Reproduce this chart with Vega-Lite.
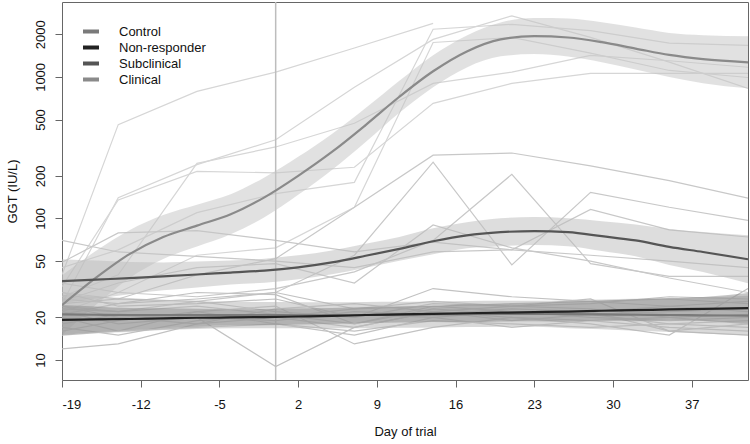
{
  "$schema": "https://vega.github.io/schema/vega-lite/v6.json",
  "width": 686,
  "height": 378,
  "autosize": {"type": "none"},
  "padding": {"left": 62, "top": 2, "right": 2, "bottom": 64},
  "background": "white",
  "config": {
    "view": {"stroke": "#666666", "strokeWidth": 1},
    "font": "Liberation Sans"
  },
  "datasets": {
    "animals": [
      {"id":"C1","group":"Clinical","day":-19,"ggt":40},{"id":"C1","group":"Clinical","day":-14,"ggt":460},{"id":"C1","group":"Clinical","day":-7,"ggt":790},{"id":"C1","group":"Clinical","day":0,"ggt":1080},{"id":"C1","group":"Clinical","day":7,"ggt":1600},{"id":"C1","group":"Clinical","day":14,"ggt":2390},
      {"id":"C2","group":"Clinical","day":-19,"ggt":25},{"id":"C2","group":"Clinical","day":-14,"ggt":140},{"id":"C2","group":"Clinical","day":-7,"ggt":240},{"id":"C2","group":"Clinical","day":0,"ggt":360},{"id":"C2","group":"Clinical","day":7,"ggt":845},{"id":"C2","group":"Clinical","day":14,"ggt":1840},{"id":"C2","group":"Clinical","day":21,"ggt":2700},{"id":"C2","group":"Clinical","day":28,"ggt":1900},{"id":"C2","group":"Clinical","day":35,"ggt":1270},{"id":"C2","group":"Clinical","day":42,"ggt":830},
      {"id":"C3","group":"Clinical","day":-19,"ggt":33},{"id":"C3","group":"Clinical","day":-14,"ggt":135},{"id":"C3","group":"Clinical","day":-7,"ggt":215},{"id":"C3","group":"Clinical","day":0,"ggt":210},{"id":"C3","group":"Clinical","day":7,"ggt":230},{"id":"C3","group":"Clinical","day":14,"ggt":650},{"id":"C3","group":"Clinical","day":21,"ggt":900},{"id":"C3","group":"Clinical","day":28,"ggt":1060},{"id":"C3","group":"Clinical","day":35,"ggt":1060},{"id":"C3","group":"Clinical","day":42,"ggt":1060},
      {"id":"C4","group":"Clinical","day":-19,"ggt":45},{"id":"C4","group":"Clinical","day":-14,"ggt":60},{"id":"C4","group":"Clinical","day":-7,"ggt":110},{"id":"C4","group":"Clinical","day":0,"ggt":150},{"id":"C4","group":"Clinical","day":7,"ggt":180},{"id":"C4","group":"Clinical","day":14,"ggt":2170},{"id":"C4","group":"Clinical","day":21,"ggt":2350},{"id":"C4","group":"Clinical","day":28,"ggt":2120},{"id":"C4","group":"Clinical","day":35,"ggt":1730},{"id":"C4","group":"Clinical","day":42,"ggt":1670},
      {"id":"C5","group":"Clinical","day":-19,"ggt":22},{"id":"C5","group":"Clinical","day":-14,"ggt":30},{"id":"C5","group":"Clinical","day":-7,"ggt":55},{"id":"C5","group":"Clinical","day":0,"ggt":62},{"id":"C5","group":"Clinical","day":7,"ggt":120},{"id":"C5","group":"Clinical","day":14,"ggt":1750},{"id":"C5","group":"Clinical","day":21,"ggt":1900},{"id":"C5","group":"Clinical","day":28,"ggt":1470},{"id":"C5","group":"Clinical","day":35,"ggt":1110},{"id":"C5","group":"Clinical","day":42,"ggt":990},
      {"id":"C6","group":"Clinical","day":-19,"ggt":28},{"id":"C6","group":"Clinical","day":-14,"ggt":40},{"id":"C6","group":"Clinical","day":-7,"ggt":245},{"id":"C6","group":"Clinical","day":0,"ggt":320},{"id":"C6","group":"Clinical","day":7,"ggt":470},{"id":"C6","group":"Clinical","day":14,"ggt":900},{"id":"C6","group":"Clinical","day":21,"ggt":1080},{"id":"C6","group":"Clinical","day":28,"ggt":1420},{"id":"C6","group":"Clinical","day":35,"ggt":1300},{"id":"C6","group":"Clinical","day":42,"ggt":1170},
      {"id":"S1","group":"Subclinical","day":-19,"ggt":30},{"id":"S1","group":"Subclinical","day":-14,"ggt":27},{"id":"S1","group":"Subclinical","day":-7,"ggt":40},{"id":"S1","group":"Subclinical","day":0,"ggt":52},{"id":"S1","group":"Subclinical","day":7,"ggt":120},{"id":"S1","group":"Subclinical","day":14,"ggt":280},{"id":"S1","group":"Subclinical","day":21,"ggt":290},{"id":"S1","group":"Subclinical","day":28,"ggt":235},{"id":"S1","group":"Subclinical","day":35,"ggt":185},{"id":"S1","group":"Subclinical","day":42,"ggt":139},
      {"id":"S2","group":"Subclinical","day":-19,"ggt":24},{"id":"S2","group":"Subclinical","day":-14,"ggt":22},{"id":"S2","group":"Subclinical","day":-7,"ggt":26},{"id":"S2","group":"Subclinical","day":0,"ggt":30},{"id":"S2","group":"Subclinical","day":7,"ggt":55},{"id":"S2","group":"Subclinical","day":14,"ggt":250},{"id":"S2","group":"Subclinical","day":21,"ggt":47},{"id":"S2","group":"Subclinical","day":28,"ggt":153},{"id":"S2","group":"Subclinical","day":35,"ggt":120},{"id":"S2","group":"Subclinical","day":42,"ggt":97},
      {"id":"S3","group":"Subclinical","day":-19,"ggt":35},{"id":"S3","group":"Subclinical","day":-14,"ggt":30},{"id":"S3","group":"Subclinical","day":-7,"ggt":28},{"id":"S3","group":"Subclinical","day":0,"ggt":32},{"id":"S3","group":"Subclinical","day":7,"ggt":42},{"id":"S3","group":"Subclinical","day":14,"ggt":70},{"id":"S3","group":"Subclinical","day":21,"ggt":205},{"id":"S3","group":"Subclinical","day":28,"ggt":48},{"id":"S3","group":"Subclinical","day":35,"ggt":39},{"id":"S3","group":"Subclinical","day":42,"ggt":39},
      {"id":"S4","group":"Subclinical","day":-19,"ggt":70},{"id":"S4","group":"Subclinical","day":-14,"ggt":58},{"id":"S4","group":"Subclinical","day":-7,"ggt":54},{"id":"S4","group":"Subclinical","day":0,"ggt":50},{"id":"S4","group":"Subclinical","day":7,"ggt":45},{"id":"S4","group":"Subclinical","day":14,"ggt":58},{"id":"S4","group":"Subclinical","day":21,"ggt":60},{"id":"S4","group":"Subclinical","day":28,"ggt":116},{"id":"S4","group":"Subclinical","day":35,"ggt":83},{"id":"S4","group":"Subclinical","day":42,"ggt":74},
      {"id":"S5","group":"Subclinical","day":-19,"ggt":49},{"id":"S5","group":"Subclinical","day":-14,"ggt":79},{"id":"S5","group":"Subclinical","day":-7,"ggt":82},{"id":"S5","group":"Subclinical","day":0,"ggt":70},{"id":"S5","group":"Subclinical","day":7,"ggt":58},{"id":"S5","group":"Subclinical","day":14,"ggt":68},{"id":"S5","group":"Subclinical","day":21,"ggt":60},{"id":"S5","group":"Subclinical","day":28,"ggt":55},{"id":"S5","group":"Subclinical","day":35,"ggt":50},{"id":"S5","group":"Subclinical","day":42,"ggt":45},
      {"id":"S6","group":"Subclinical","day":-19,"ggt":26},{"id":"S6","group":"Subclinical","day":-14,"ggt":35},{"id":"S6","group":"Subclinical","day":-7,"ggt":45},{"id":"S6","group":"Subclinical","day":0,"ggt":48},{"id":"S6","group":"Subclinical","day":7,"ggt":35},{"id":"S6","group":"Subclinical","day":14,"ggt":90},{"id":"S6","group":"Subclinical","day":21,"ggt":62},{"id":"S6","group":"Subclinical","day":28,"ggt":50},{"id":"S6","group":"Subclinical","day":35,"ggt":38},{"id":"S6","group":"Subclinical","day":42,"ggt":30},
      {"id":"N1","group":"Control","day":-19,"ggt":12},{"id":"N1","group":"Control","day":-14,"ggt":13},{"id":"N1","group":"Control","day":-7,"ggt":18},{"id":"N1","group":"Control","day":0,"ggt":20},{"id":"N1","group":"Control","day":7,"ggt":17},{"id":"N1","group":"Control","day":14,"ggt":22},{"id":"N1","group":"Control","day":21,"ggt":20},{"id":"N1","group":"Control","day":28,"ggt":19},{"id":"N1","group":"Control","day":35,"ggt":17},{"id":"N1","group":"Control","day":42,"ggt":16},
      {"id":"N2","group":"Control","day":-19,"ggt":22},{"id":"N2","group":"Control","day":-14,"ggt":18},{"id":"N2","group":"Control","day":-7,"ggt":20},{"id":"N2","group":"Control","day":0,"ggt":9},{"id":"N2","group":"Control","day":7,"ggt":17},{"id":"N2","group":"Control","day":14,"ggt":22},{"id":"N2","group":"Control","day":21,"ggt":19},{"id":"N2","group":"Control","day":28,"ggt":21},{"id":"N2","group":"Control","day":35,"ggt":18},{"id":"N2","group":"Control","day":42,"ggt":17},
      {"id":"N3","group":"Control","day":-19,"ggt":17},{"id":"N3","group":"Control","day":-14,"ggt":15},{"id":"N3","group":"Control","day":-7,"ggt":19},{"id":"N3","group":"Control","day":0,"ggt":21},{"id":"N3","group":"Control","day":7,"ggt":18},{"id":"N3","group":"Control","day":14,"ggt":23},{"id":"N3","group":"Control","day":21,"ggt":21},{"id":"N3","group":"Control","day":28,"ggt":22},{"id":"N3","group":"Control","day":35,"ggt":24},{"id":"N3","group":"Control","day":42,"ggt":26},
      {"id":"N4","group":"Control","day":-19,"ggt":20},{"id":"N4","group":"Control","day":-14,"ggt":16},{"id":"N4","group":"Control","day":-7,"ggt":22},{"id":"N4","group":"Control","day":0,"ggt":24},{"id":"N4","group":"Control","day":7,"ggt":13},{"id":"N4","group":"Control","day":14,"ggt":17},{"id":"N4","group":"Control","day":21,"ggt":20},{"id":"N4","group":"Control","day":28,"ggt":18},{"id":"N4","group":"Control","day":35,"ggt":15},{"id":"N4","group":"Control","day":42,"ggt":32},
      {"id":"N5","group":"Control","day":-19,"ggt":25},{"id":"N5","group":"Control","day":-14,"ggt":27},{"id":"N5","group":"Control","day":-7,"ggt":26},{"id":"N5","group":"Control","day":0,"ggt":22},{"id":"N5","group":"Control","day":7,"ggt":20},{"id":"N5","group":"Control","day":14,"ggt":25},{"id":"N5","group":"Control","day":21,"ggt":24},{"id":"N5","group":"Control","day":28,"ggt":23},{"id":"N5","group":"Control","day":35,"ggt":20},{"id":"N5","group":"Control","day":42,"ggt":18},
      {"id":"N6","group":"Control","day":-19,"ggt":19},{"id":"N6","group":"Control","day":-14,"ggt":20},{"id":"N6","group":"Control","day":-7,"ggt":21},{"id":"N6","group":"Control","day":0,"ggt":20},{"id":"N6","group":"Control","day":7,"ggt":23},{"id":"N6","group":"Control","day":14,"ggt":24},{"id":"N6","group":"Control","day":21,"ggt":22},{"id":"N6","group":"Control","day":28,"ggt":21},{"id":"N6","group":"Control","day":35,"ggt":22},{"id":"N6","group":"Control","day":42,"ggt":23},
      {"id":"N7","group":"Control","day":-19,"ggt":27},{"id":"N7","group":"Control","day":-14,"ggt":25},{"id":"N7","group":"Control","day":-7,"ggt":30},{"id":"N7","group":"Control","day":0,"ggt":29},{"id":"N7","group":"Control","day":7,"ggt":18},{"id":"N7","group":"Control","day":14,"ggt":24},{"id":"N7","group":"Control","day":21,"ggt":25},{"id":"N7","group":"Control","day":28,"ggt":26},{"id":"N7","group":"Control","day":35,"ggt":27},{"id":"N7","group":"Control","day":42,"ggt":25},
      {"id":"N8","group":"Non-responder","day":-19,"ggt":15},{"id":"N8","group":"Non-responder","day":-14,"ggt":16},{"id":"N8","group":"Non-responder","day":-7,"ggt":17},{"id":"N8","group":"Non-responder","day":0,"ggt":18},{"id":"N8","group":"Non-responder","day":7,"ggt":16},{"id":"N8","group":"Non-responder","day":14,"ggt":19},{"id":"N8","group":"Non-responder","day":21,"ggt":18},{"id":"N8","group":"Non-responder","day":28,"ggt":17},{"id":"N8","group":"Non-responder","day":35,"ggt":18},{"id":"N8","group":"Non-responder","day":42,"ggt":19},
      {"id":"N9","group":"Non-responder","day":-19,"ggt":23},{"id":"N9","group":"Non-responder","day":-14,"ggt":22},{"id":"N9","group":"Non-responder","day":-7,"ggt":24},{"id":"N9","group":"Non-responder","day":0,"ggt":21},{"id":"N9","group":"Non-responder","day":7,"ggt":21},{"id":"N9","group":"Non-responder","day":14,"ggt":20},{"id":"N9","group":"Non-responder","day":21,"ggt":22},{"id":"N9","group":"Non-responder","day":28,"ggt":20},{"id":"N9","group":"Non-responder","day":35,"ggt":19},{"id":"N9","group":"Non-responder","day":42,"ggt":20},
      {"id":"N10","group":"Non-responder","day":-19,"ggt":30},{"id":"N10","group":"Non-responder","day":-14,"ggt":24},{"id":"N10","group":"Non-responder","day":-7,"ggt":25},{"id":"N10","group":"Non-responder","day":0,"ggt":27},{"id":"N10","group":"Non-responder","day":7,"ggt":20},{"id":"N10","group":"Non-responder","day":14,"ggt":32},{"id":"N10","group":"Non-responder","day":21,"ggt":28},{"id":"N10","group":"Non-responder","day":28,"ggt":26},{"id":"N10","group":"Non-responder","day":35,"ggt":24},{"id":"N10","group":"Non-responder","day":42,"ggt":22},
      {"id":"N11","group":"Non-responder","day":-19,"ggt":18},{"id":"N11","group":"Non-responder","day":-14,"ggt":21},{"id":"N11","group":"Non-responder","day":-7,"ggt":20},{"id":"N11","group":"Non-responder","day":0,"ggt":19},{"id":"N11","group":"Non-responder","day":7,"ggt":22},{"id":"N11","group":"Non-responder","day":14,"ggt":21},{"id":"N11","group":"Non-responder","day":21,"ggt":23},{"id":"N11","group":"Non-responder","day":28,"ggt":22},{"id":"N11","group":"Non-responder","day":35,"ggt":16},{"id":"N11","group":"Non-responder","day":42,"ggt":15},
      {"id":"N12","group":"Non-responder","day":-19,"ggt":21},{"id":"N12","group":"Non-responder","day":-14,"ggt":25},{"id":"N12","group":"Non-responder","day":-7,"ggt":27},{"id":"N12","group":"Non-responder","day":0,"ggt":30},{"id":"N12","group":"Non-responder","day":7,"ggt":23},{"id":"N12","group":"Non-responder","day":14,"ggt":26},{"id":"N12","group":"Non-responder","day":21,"ggt":24},{"id":"N12","group":"Non-responder","day":28,"ggt":25},{"id":"N12","group":"Non-responder","day":35,"ggt":28},{"id":"N12","group":"Non-responder","day":42,"ggt":27},
      {"id":"N13","group":"Non-responder","day":-19,"ggt":16},{"id":"N13","group":"Non-responder","day":-14,"ggt":19},{"id":"N13","group":"Non-responder","day":-7,"ggt":22},{"id":"N13","group":"Non-responder","day":0,"ggt":18},{"id":"N13","group":"Non-responder","day":7,"ggt":15},{"id":"N13","group":"Non-responder","day":14,"ggt":20},{"id":"N13","group":"Non-responder","day":21,"ggt":17},{"id":"N13","group":"Non-responder","day":28,"ggt":19},{"id":"N13","group":"Non-responder","day":35,"ggt":20},{"id":"N13","group":"Non-responder","day":42,"ggt":21},
      {"id":"N14","group":"Non-responder","day":-19,"ggt":24},{"id":"N14","group":"Non-responder","day":-14,"ggt":20},{"id":"N14","group":"Non-responder","day":-7,"ggt":18},{"id":"N14","group":"Non-responder","day":0,"ggt":23},{"id":"N14","group":"Non-responder","day":7,"ggt":25},{"id":"N14","group":"Non-responder","day":14,"ggt":22},{"id":"N14","group":"Non-responder","day":21,"ggt":24},{"id":"N14","group":"Non-responder","day":28,"ggt":27},{"id":"N14","group":"Non-responder","day":35,"ggt":16},{"id":"N14","group":"Non-responder","day":42,"ggt":18}
    ],
    "fits": [
      {"group":"Clinical","day":-19,"fit":24.4,"lo":15.0,"hi":39.7},{"group":"Clinical","day":-16,"fit":38,"lo":24.5,"hi":58.9},{"group":"Clinical","day":-13,"fit":56,"lo":37.9,"hi":82.7},{"group":"Clinical","day":-10,"fit":74,"lo":51.7,"hi":105.8},{"group":"Clinical","day":-7,"fit":89,"lo":63.3,"hi":125.1},{"group":"Clinical","day":-4,"fit":107,"lo":77.3,"hi":148.1},{"group":"Clinical","day":-1,"fit":141,"lo":101.9,"hi":195.1},{"group":"Clinical","day":2,"fit":200,"lo":146.8,"hi":272.4},{"group":"Clinical","day":5,"fit":295,"lo":220.1,"hi":395.3},{"group":"Clinical","day":8,"fit":457,"lo":346.7,"hi":602.3},{"group":"Clinical","day":11,"fit":724,"lo":558.2,"hi":939},{"group":"Clinical","day":14,"fit":1096,"lo":845,"hi":1422},{"group":"Clinical","day":17,"fit":1514,"lo":1167,"hi":1964},{"group":"Clinical","day":20,"fit":1841,"lo":1397,"hi":2426},{"group":"Clinical","day":23,"fit":1941,"lo":1449,"hi":2601},{"group":"Clinical","day":26,"fit":1897,"lo":1393,"hi":2584},{"group":"Clinical","day":29,"fit":1758,"lo":1270,"hi":2433},{"group":"Clinical","day":32,"fit":1585,"lo":1127,"hi":2229},{"group":"Clinical","day":35,"fit":1429,"lo":1000,"hi":2044},{"group":"Clinical","day":38,"fit":1334,"lo":903,"hi":1970},{"group":"Clinical","day":42,"fit":1268,"lo":831,"hi":1935},
      {"group":"Subclinical","day":-19,"fit":36.1,"lo":25.2,"hi":51.6},{"group":"Subclinical","day":-16,"fit":37.0,"lo":27.2,"hi":50.4},{"group":"Subclinical","day":-13,"fit":37.9,"lo":29.2,"hi":49.2},{"group":"Subclinical","day":-10,"fit":39.0,"lo":31.1,"hi":48.9},{"group":"Subclinical","day":-7,"fit":40.2,"lo":32.6,"hi":49.6},{"group":"Subclinical","day":-4,"fit":41.5,"lo":34.2,"hi":50.4},{"group":"Subclinical","day":-1,"fit":42.8,"lo":35.2,"hi":52.0},{"group":"Subclinical","day":2,"fit":45.2,"lo":37.2,"hi":54.9},{"group":"Subclinical","day":5,"fit":49.0,"lo":40.3,"hi":59.5},{"group":"Subclinical","day":8,"fit":54.5,"lo":44.9,"hi":66.2},{"group":"Subclinical","day":11,"fit":61.0,"lo":50.2,"hi":74.1},{"group":"Subclinical","day":14,"fit":69.0,"lo":55.9,"hi":85.2},{"group":"Subclinical","day":17,"fit":76.0,"lo":61.5,"hi":93.9},{"group":"Subclinical","day":20,"fit":80.0,"lo":63.7,"hi":100.4},{"group":"Subclinical","day":23,"fit":81.5,"lo":64.9,"hi":102.3},{"group":"Subclinical","day":26,"fit":80.0,"lo":63.7,"hi":100.4},{"group":"Subclinical","day":29,"fit":75.0,"lo":58.8,"hi":95.7},{"group":"Subclinical","day":32,"fit":70.0,"lo":54.0,"hi":90.8},{"group":"Subclinical","day":35,"fit":63.0,"lo":47.0,"hi":84.4},{"group":"Subclinical","day":38,"fit":58.0,"lo":41.9,"hi":80.3},{"group":"Subclinical","day":42,"fit":51.5,"lo":34.9,"hi":76.1},
      {"group":"Control","day":-19,"fit":21.0,"lo":15.2,"hi":29.1},{"group":"Control","day":-16,"fit":20.9,"lo":15.6,"hi":28.0},{"group":"Control","day":-13,"fit":20.8,"lo":15.8,"hi":27.4},{"group":"Control","day":-10,"fit":20.8,"lo":16.3,"hi":26.5},{"group":"Control","day":-7,"fit":20.8,"lo":16.6,"hi":26.1},{"group":"Control","day":-4,"fit":20.8,"lo":16.8,"hi":25.7},{"group":"Control","day":-1,"fit":20.8,"lo":16.8,"hi":25.7},{"group":"Control","day":2,"fit":20.7,"lo":16.8,"hi":25.6},{"group":"Control","day":5,"fit":20.7,"lo":16.8,"hi":25.6},{"group":"Control","day":8,"fit":20.8,"lo":16.8,"hi":25.7},{"group":"Control","day":11,"fit":20.9,"lo":16.9,"hi":25.8},{"group":"Control","day":14,"fit":21.0,"lo":17.0,"hi":25.9},{"group":"Control","day":17,"fit":21.1,"lo":17.1,"hi":26.1},{"group":"Control","day":20,"fit":21.2,"lo":17.2,"hi":26.2},{"group":"Control","day":23,"fit":21.2,"lo":17.2,"hi":26.2},{"group":"Control","day":26,"fit":21.1,"lo":16.8,"hi":26.5},{"group":"Control","day":29,"fit":21.0,"lo":16.5,"hi":26.8},{"group":"Control","day":32,"fit":20.9,"lo":16.1,"hi":27.1},{"group":"Control","day":35,"fit":20.8,"lo":15.8,"hi":27.4},{"group":"Control","day":38,"fit":20.7,"lo":15.4,"hi":27.7},{"group":"Control","day":42,"fit":20.6,"lo":14.9,"hi":28.5},
      {"group":"Non-responder","day":-19,"fit":19.2,"lo":15.0,"hi":24.5},{"group":"Non-responder","day":-16,"fit":19.35,"lo":15.7,"hi":23.9},{"group":"Non-responder","day":-13,"fit":19.5,"lo":16.3,"hi":23.3},{"group":"Non-responder","day":-10,"fit":19.7,"lo":16.8,"hi":23.2},{"group":"Non-responder","day":-7,"fit":19.9,"lo":17.2,"hi":23.0},{"group":"Non-responder","day":-4,"fit":20.0,"lo":17.6,"hi":22.8},{"group":"Non-responder","day":-1,"fit":20.1,"lo":17.6,"hi":22.9},{"group":"Non-responder","day":2,"fit":20.3,"lo":17.8,"hi":23.1},{"group":"Non-responder","day":5,"fit":20.5,"lo":18.0,"hi":23.3},{"group":"Non-responder","day":8,"fit":20.8,"lo":18.3,"hi":23.7},{"group":"Non-responder","day":11,"fit":21.0,"lo":18.4,"hi":23.9},{"group":"Non-responder","day":14,"fit":21.2,"lo":18.6,"hi":24.1},{"group":"Non-responder","day":17,"fit":21.4,"lo":18.5,"hi":24.8},{"group":"Non-responder","day":20,"fit":21.6,"lo":18.7,"hi":25.0},{"group":"Non-responder","day":23,"fit":21.8,"lo":18.8,"hi":25.2},{"group":"Non-responder","day":26,"fit":22.0,"lo":18.7,"hi":25.9},{"group":"Non-responder","day":29,"fit":22.3,"lo":19.0,"hi":26.2},{"group":"Non-responder","day":32,"fit":22.5,"lo":18.8,"hi":26.9},{"group":"Non-responder","day":35,"fit":22.8,"lo":19.1,"hi":27.3},{"group":"Non-responder","day":38,"fit":23.0,"lo":18.9,"hi":27.9},{"group":"Non-responder","day":42,"fit":23.3,"lo":18.2,"hi":29.7}
    ],
    "vline": [{"day": 0}]
  },
  "encoding": {
    "x": {
      "field": "day", "type": "quantitative",
      "scale": {"domain": [-19, 42], "nice": false, "zero": false},
      "axis": {
        "values": [-19, -12, -5, 2, 9, 16, 23, 30, 37],
        "labelExpr": "'' + datum.value",
        "title": "Day of trial", "domain": false, "grid": false,
        "tickSize": 7, "tickColor": "#666666", "tickWidth": 1,
        "labelFontSize": 13, "labelPadding": 11, "labelColor": "#111111", "labelFont": "Liberation Sans",
        "titleFontSize": 13, "titleFontWeight": "normal", "titlePadding": 14, "titleColor": "#111111", "titleFont": "Liberation Sans"
      }
    }
  },
  "layer": [
    {
      "data": {"name": "animals"},
      "mark": {"type": "line", "strokeWidth": 1.2, "clip": true},
      "encoding": {
        "y": {
          "field": "ggt", "type": "quantitative",
          "scale": {"type": "log", "domain": [7.23, 3380], "nice": false},
          "axis": {
            "values": [10, 20, 50, 100, 200, 500, 1000, 2000],
            "labelExpr": "'' + datum.value",
            "title": "GGT (IU/L)", "domain": false, "grid": false,
            "tickSize": 7, "tickColor": "#666666", "tickWidth": 1,
            "labelAngle": -90, "labelAlign": "center", "labelBaseline": "bottom",
            "labelFontSize": 13, "labelPadding": 8, "labelColor": "#111111", "labelFont": "Liberation Sans",
            "titleFontSize": 13, "titleFontWeight": "normal", "titlePadding": 15, "titleColor": "#111111", "titleFont": "Liberation Sans"
          }
        },
        "detail": {"field": "id", "type": "nominal"},
        "color": {
          "condition": [
            {"test": "datum.group === 'Clinical'", "value": "#d6d6d6"},
            {"test": "datum.group === 'Subclinical'", "value": "#c8c8c8"}
          ],
          "value": "#c2c2c2"
        }
      }
    },
    {
      "data": {"name": "vline"},
      "mark": {"type": "rule", "color": "#bdbdbd", "strokeWidth": 1.5},
      "encoding": {}
    },
    {
      "data": {"name": "fits"},
      "mark": {"type": "area", "interpolate": "monotone", "opacity": 0.5, "clip": true},
      "encoding": {
        "y": {"field": "lo", "type": "quantitative"},
        "y2": {"field": "hi"},
        "detail": {"field": "group", "type": "nominal"},
        "fill": {
          "condition": [
            {"test": "datum.group === 'Clinical'", "value": "#c4c4c4"},
            {"test": "datum.group === 'Subclinical'", "value": "#bcbcbc"},
            {"test": "datum.group === 'Control'", "value": "#b4b4b4"}
          ],
          "value": "#8c8c8c"
        }
      }
    },
    {
      "data": {"name": "fits"},
      "mark": {"type": "line", "interpolate": "monotone", "strokeWidth": 2.2, "clip": true},
      "encoding": {
        "y": {"field": "fit", "type": "quantitative"},
        "stroke": {
          "field": "group", "type": "nominal",
          "scale": {"domain": ["Control", "Non-responder", "Subclinical", "Clinical"], "range": ["#7a7a7a", "#222222", "#555555", "#8a8a8a"]},
          "legend": {
            "title": null, "orient": "none", "legendX": 19, "legendY": 23,
            "symbolType": "stroke", "symbolStrokeWidth": 4, "symbolSize": 256,
            "clipHeight": 13,
            "labelFontSize": 13, "labelFont": "Liberation Sans", "labelColor": "#111111",
            "labelOffset": 18, "rowPadding": 2, "padding": 0
          }
        }
      }
    }
  ]
}
